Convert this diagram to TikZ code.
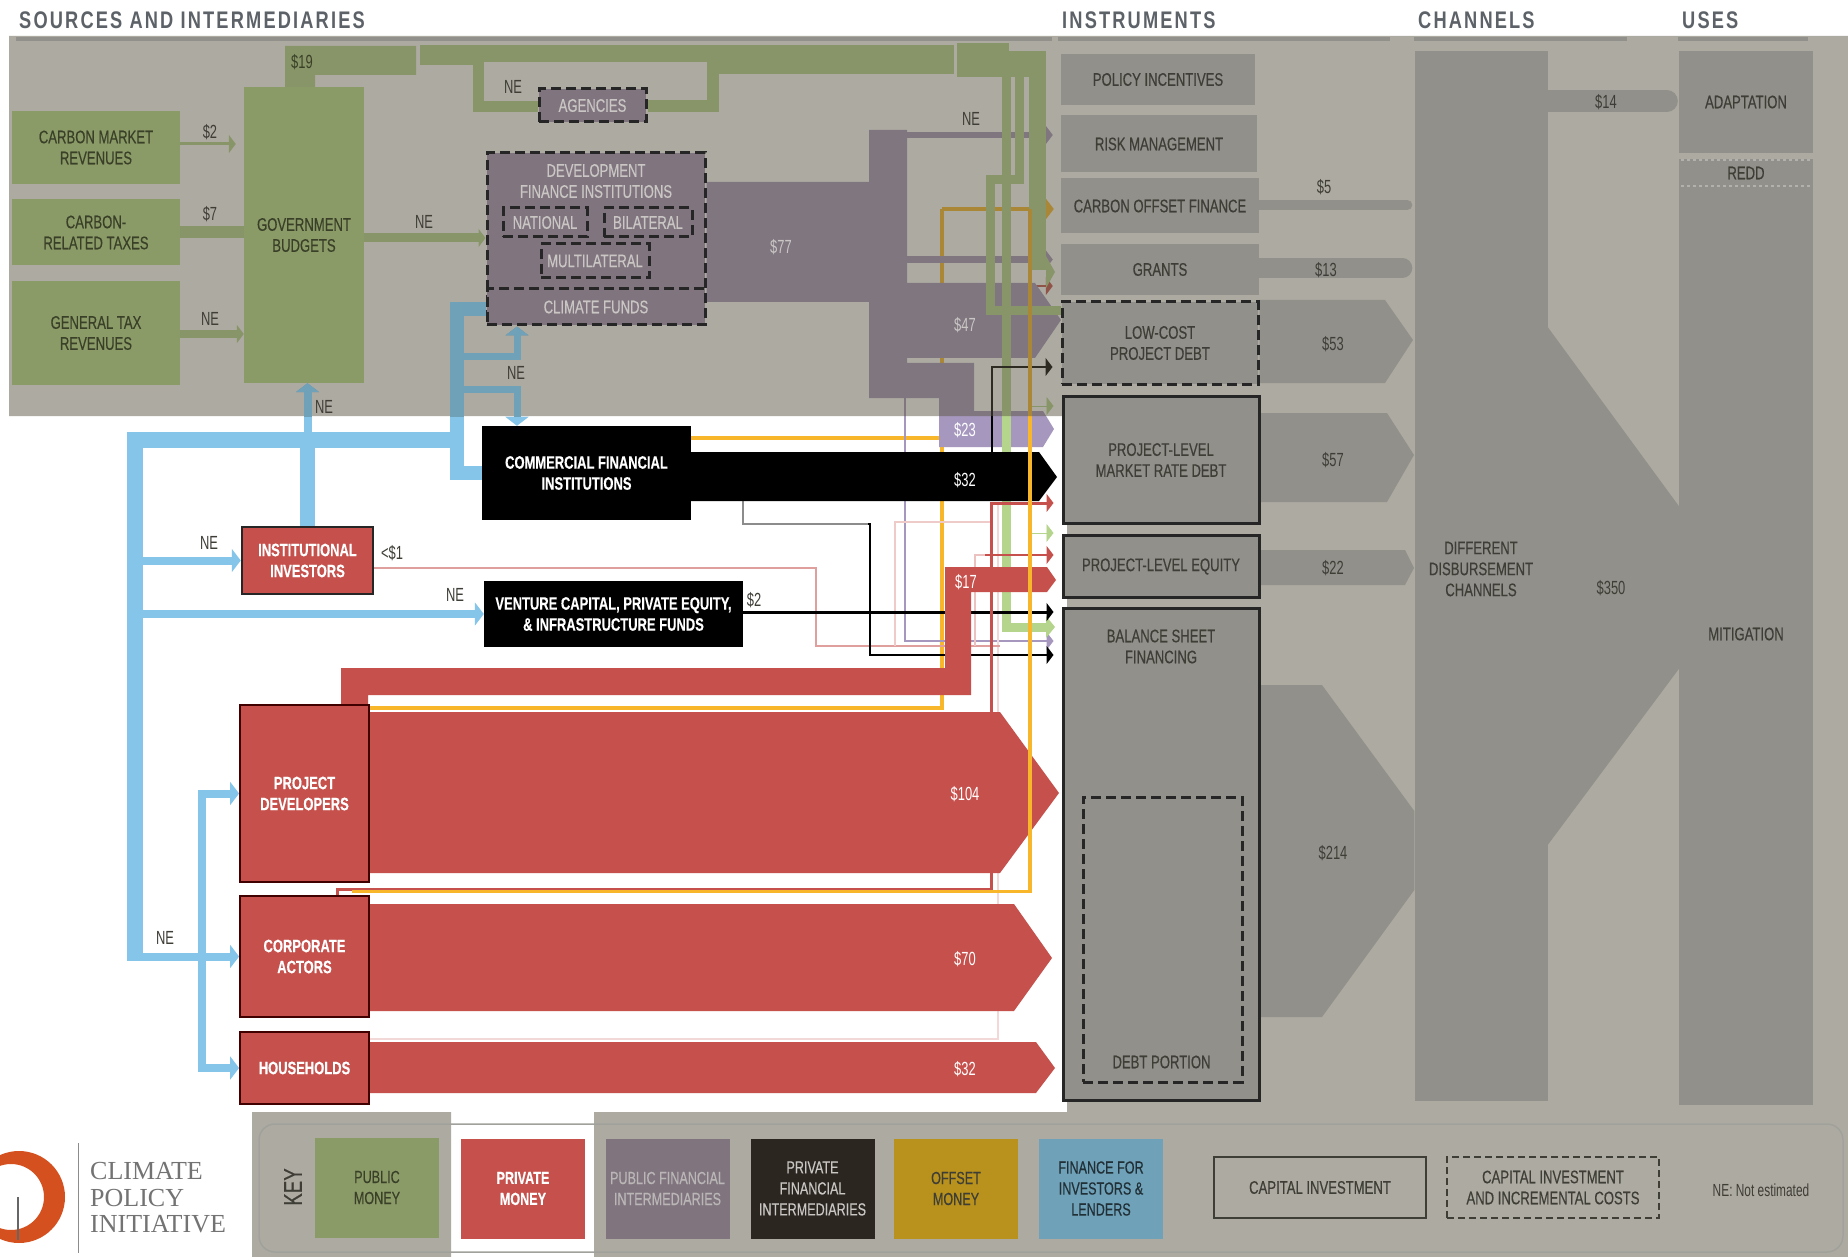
\documentclass[tikz,border=0pt]{standalone}
\usepackage{fontspec}
\usepackage{tikz}
\usetikzlibrary{arrows.meta}
\newfontfamily\condfont[FakeStretch=0.72,FakeBold=0.35]{Liberation Sans}
\newfontfamily\valfont[FakeStretch=0.68]{Liberation Sans}
\newfontfamily\headfont[FakeStretch=0.76,LetterSpace=9]{Liberation Sans}
\newfontfamily\logofont{Liberation Serif}
\definecolor{pubgreen}{HTML}{8B9B68}
\definecolor{privred}{HTML}{C5504C}
\definecolor{finpurple}{HTML}{80757F}
\definecolor{privdark}{HTML}{2B2620}
\definecolor{offsetgold}{HTML}{B8921C}
\definecolor{finblue}{HTML}{6FA1B8}
\definecolor{instgrey}{HTML}{91908A}
\definecolor{greentext}{HTML}{3A4028}
\definecolor{greytext}{HTML}{3E3D36}
\definecolor{dimtext}{HTML}{C9C6C4}
\definecolor{basegreen}{HTML}{B5D58C}
\definecolor{basepurple}{HTML}{A597BD}
\definecolor{baseyellow}{HTML}{F8B62A}
\definecolor{blueflow}{HTML}{85C5EA}
\definecolor{shadecol}{HTML}{5D5745}
\definecolor{headcol}{HTML}{5C6268}
\definecolor{logoorange}{HTML}{D4501E}
\pgfdeclarelayer{flows}
\pgfdeclarelayer{shade}
\pgfsetlayers{flows,shade,main}
\newcommand{\tiparrow}[7]{\fill[#1] (#2 |- 0,#3) -- (#5,#3) -- (#6,#7) -- (#5,#4) -- (#2 |- 0,#4) -- cycle;}
\newcommand{\blueflows}{
\draw[bfl,line width=15.5pt] (457,440) -- (135,440) -- (135,957);
\draw[bfl,line width=8pt,tipa] (127,0 |- corporate.west) -- (corporate.west);
\draw[bfl,line width=8pt,tipa] (135,0 |- inst.west) -- (inst.west);
\draw[bfl,line width=7.5pt,tipa] (135,0 |- venture.west) -- (venture.west);
\draw[bfl,line width=8pt,{Triangle[length=9pt,width=23pt]}-{Triangle[length=9pt,width=23pt]}] (project.west) -- ++(-37,0) -- ++(0,274.5) -- (household.west);
\draw[bfl,line width=15pt] (inst.north) -- (inst.north |- 0,440);
\draw[bfl,line width=8pt,tipa] (inst.north |- 0,440) -- (inst.north |- gov.south);
\draw[bfl,line width=14.5pt] (climate.west |- 0,309) -- (457,309) -- (457,473) -- (cfi.west |- 0,473);
\draw[bfl,line width=7pt,tipa] (457,356.5) -- (517,356.5) -- (517,0 |- climate.south);
\draw[bfl,line width=7pt,tipa] (457,389) -- (517,389) -- (517,0 |- cfi.north);
}
\begin{document}
\begin{tikzpicture}[x=1pt,y=-1pt,
    lab/.style={font=\condfont\fontsize{18.2}{21}\selectfont,align=center,inner sep=0pt},
    labw/.style={lab,font=\condfont\bfseries\fontsize{18}{21}\selectfont,text=white},
    val/.style={font=\valfont\fontsize{19}{20}\selectfont,text=greytext,inner sep=0pt},
    valw/.style={val,text=white},
    vald/.style={val,text=dimtext},
    head/.style={font=\headfont\bfseries\fontsize{24}{26}\selectfont,text=headcol,anchor=west,inner sep=0pt},
    srcbox/.style={lab,fill=pubgreen,text=greentext},
    pfbox/.style={lab,fill=finpurple,text=dimtext},
    pfdash/.style={pfbox,draw=black!85,line width=3pt,dash pattern=on 10pt off 5pt},
    instbox/.style={lab,fill=instgrey,text=greytext},
    instsolid/.style={instbox,draw=black!85,line width=3pt},
    instdash/.style={instbox,draw=black!85,line width=3pt,dash pattern=on 10pt off 5pt},
    redbox/.style={labw,fill=privred,draw=red!25!black,line width=1.8pt},
    blkbox/.style={labw,fill=black},
    keybox/.style={lab,font=\condfont\fontsize{17.5}{21}\selectfont,minimum width=124pt,minimum height=100pt},
    tipa/.style={-{Triangle[length=9pt,width=23pt]}},
    tipb/.style={-{Triangle[length=7pt,width=18pt]},shorten >=8pt},
    pfl/.style={fill=basepurple,draw=none},
    gfl/.style={draw=basegreen},
    bfl/.style={draw=blueflow},
    rfl/.style={fill=privred,draw=none},
    gryfl/.style={draw=instgrey,line cap=round}]
\useasboundingbox (0,0) rectangle (1848,1257);
% sources
\node[srcbox,minimum width=168pt,minimum height=73pt] (carbmkt) at (96,147.5) {CARBON MARKET\\REVENUES};
\node[srcbox,minimum width=168pt,minimum height=66pt] (carbtax) at (96,232.5) {CARBON-\\RELATED TAXES};
\node[srcbox,minimum width=168pt,minimum height=104pt] (gentax) at (96,333) {GENERAL TAX\\REVENUES};
\node[srcbox,minimum width=120pt,minimum height=296pt] (gov) at (304,235) {GOVERNMENT\\BUDGETS};
% public intermediaries
\node[pfdash,minimum width=107pt,minimum height=33pt] (agencies) at (592.5,105.5) {AGENCIES};
\node[pfdash,minimum width=218pt,minimum height=172pt] (dev) at (596,239) {};
\node[lab,text=dimtext] (devlabel) at (596,181) {DEVELOPMENT\\FINANCE INSTITUTIONS};
\node[pfdash,minimum width=218pt,minimum height=36pt] (climate) at (596,307) {CLIMATE FUNDS};
\node[pfdash,minimum width=84pt,minimum height=29pt] (national) at (545,222.5) {NATIONAL};
\node[pfdash,minimum width=88pt,minimum height=29pt] (bilateral) at (648,222.5) {BILATERAL};
\node[pfdash,minimum width=108pt,minimum height=34pt] (multilateral) at (595,261) {MULTILATERAL};
% private intermediaries and actors
\node[blkbox,minimum width=209pt,minimum height=94pt] (cfi) at (586.5,473) {COMMERCIAL FINANCIAL\\INSTITUTIONS};
\node[blkbox,minimum width=259pt,minimum height=66pt] (venture) at (613.5,614) {VENTURE CAPITAL, PRIVATE EQUITY,\\\& INFRASTRUCTURE FUNDS};
\node[redbox,draw=black!85,line width=2.5pt,minimum width=131pt,minimum height=67pt] (inst) at (307.5,560.5) {INSTITUTIONAL\\INVESTORS};
\node[redbox,minimum width=129pt,minimum height=177pt] (project) at (304.5,793.5) {PROJECT\\DEVELOPERS};
\node[redbox,minimum width=129pt,minimum height=121pt] (corporate) at (304.5,956.5) {CORPORATE\\ACTORS};
\node[redbox,minimum width=129pt,minimum height=72pt] (household) at (304.5,1068) {HOUSEHOLDS};
% instruments
\node[instbox,minimum width=194pt,minimum height=51pt] (policy) at (1158,79.5) {POLICY INCENTIVES};
\node[instbox,minimum width=196pt,minimum height=57pt] (risk) at (1159,144) {RISK MANAGEMENT};
\node[instbox,minimum width=198pt,minimum height=55pt] (carbon) at (1160,206) {CARBON OFFSET FINANCE};
\node[instbox,minimum width=198pt,minimum height=51pt] (grants) at (1160,269.5) {GRANTS};
\node[instdash,minimum width=196pt,minimum height=82pt] (lowcost) at (1160,343) {LOW-COST\\PROJECT DEBT};
\node[instsolid,minimum width=196pt,minimum height=127pt] (debt) at (1161,460) {PROJECT-LEVEL\\MARKET RATE DEBT};
\node[instsolid,minimum width=196pt,minimum height=62pt] (equity) at (1161,566.5) {PROJECT-LEVEL EQUITY};
\node[instsolid,minimum width=196pt,minimum height=492pt] (balance) at (1161,854) {};
\node[lab,text=greytext] (balancelabel) at (1161,646.5) {BALANCE SHEET\\FINANCING};
\node[draw=black!85,line width=3pt,dash pattern=on 10pt off 5pt,minimum width=159pt,minimum height=285pt,inner sep=0pt] (portion) at (1162.5,939.5) {};
\node[lab,text=greytext] (portionlabel) at (1161.5,1062) {DEBT PORTION};
% channels and uses
\node[instbox,minimum width=133pt,minimum height=1050pt] (channels) at (1481,576) {};
\node[lab,text=greytext] (channelslabel) at (1481,569) {DIFFERENT\\DISBURSEMENT\\CHANNELS};
\node[instbox,minimum width=134pt,minimum height=102pt] (adaptation) at (1746,102) {ADAPTATION};
\node[instbox,minimum width=134pt,minimum height=946pt] (mitigation) at (1746,632) {};
\node[lab,text=greytext] (mitigationlabel) at (1746,634) {MITIGATION};
\node[lab,text=greytext] (redd) at (1746,173) {REDD};
% headings
\node[head] (headsrc) at (19,20.5) {SOURCES AND INTERMEDIARIES};
\node[head] (headinst) at (1062,20.5) {INSTRUMENTS};
\node[head] (headchan) at (1418,20.5) {CHANNELS};
\node[head] (headuses) at (1682,20.5) {USES};
% values
\node[val,text=greentext] (v19) at (302,62) {\$19};
\node[val] (v2) at (210,132) {\$2};
\node[val] (v7) at (210,214) {\$7};
\node[val] (negen) at (210,319) {NE};
\node[val] (negov) at (424,222) {NE};
\node[val] (neage) at (513,87) {NE};
\node[val] (nerisk) at (971,119) {NE};
\node[val] (negovup) at (324,407) {NE};
\node[val] (neclim) at (516,373) {NE};
\node[val] (neinst) at (209,543) {NE};
\node[val] (nevent) at (455,595) {NE};
\node[val] (necorp) at (165,938) {NE};
\node[val] (vlt) at (392,553) {<\$1};
\node[val] (vvent) at (754,600) {\$2};
\node[vald] (v77) at (781,247) {\$77};
\node[vald] (v47) at (965,325) {\$47};
\node[valw] (v23) at (965,430) {\$23};
\node[valw] (v32a) at (965,480) {\$32};
\node[valw] (v17) at (966,582) {\$17};
\node[valw] (v104) at (965,794) {\$104};
\node[valw] (v70) at (965,959) {\$70};
\node[valw] (v32b) at (965,1069) {\$32};
\node[val] (v5) at (1324,187) {\$5};
\node[val] (v13) at (1326,270) {\$13};
\node[val] (v53) at (1333,344) {\$53};
\node[val] (v57) at (1333,460) {\$57};
\node[val] (v22) at (1333,568) {\$22};
\node[val] (v214) at (1333,853) {\$214};
\node[val] (v14) at (1606,102) {\$14};
\node[val] (v350) at (1611,588) {\$350};
% key
\node[keybox,fill=pubgreen,text=greentext] (keypub) at (377,1187.5) {PUBLIC\\MONEY};
\node[keybox,fill=privred,text=white,font=\condfont\bfseries\fontsize{17.5}{21}\selectfont] (keypriv) at (523,1188.5) {PRIVATE\\MONEY};
\node[keybox,fill=finpurple,text=dimtext!80!finpurple] (keypf) at (667.5,1188.5) {PUBLIC FINANCIAL\\INTERMEDIARIES};
\node[keybox,fill=privdark,text=dimtext] (keypd) at (812.5,1188.5) {PRIVATE\\FINANCIAL\\INTERMEDIARIES};
\node[keybox,fill=offsetgold,text=greytext] (keyoff) at (956,1188.5) {OFFSET\\MONEY};
\node[keybox,fill=finblue,text=black!70!finblue] (keyfin) at (1101,1188.5) {FINANCE FOR\\INVESTORS \&\\LENDERS};
\node[lab,text=greytext,draw=greytext,line width=2.5pt,minimum width=212pt,minimum height=61pt] (keycap) at (1320,1187.5) {CAPITAL INVESTMENT};
\node[lab,text=greytext,draw=greytext,line width=2.5pt,dash pattern=on 7pt off 4pt,minimum width=212pt,minimum height=61pt] (keyinc) at (1553,1187.5) {CAPITAL INVESTMENT\\AND INCREMENTAL COSTS};
\node[val,font=\valfont\fontsize{17.5}{20}\selectfont] (keyne) at (1761,1190) {NE: Not estimated};
\node[font=\condfont\fontsize{26}{27}\selectfont,rotate=90,text=greytext,inner sep=0pt] (keyword) at (293,1187) {KEY};
% logo
\node[font=\logofont\fontsize{26}{26.5}\selectfont,text=black!55,align=left,anchor=west,inner sep=0pt] (logotext) at (90,1198) {CLIMATE\\POLICY\\INITIATIVE};
\fill[even odd rule,fill=logoorange] (19,1197) circle (46pt) (11,1197) circle (33pt);
\draw[black!60,line width=1.2pt] (18,1197) -- (18,1240);
\draw[black!45,line width=1pt] (78,1143) -- (78,1253);

\begin{pgfonlayer}{flows}
\fill[white] (0,0) rectangle (1848,1257);
\blueflows
% offset flows
\draw[draw=baseyellow,line width=4pt] (project.east |- 0,708) -- (942,708) -- (942,209);
\draw[draw=baseyellow,line width=4pt] (cfi.east |- 0,438) -- (942,438);
\draw[draw=baseyellow,line width=3.5pt,-{Triangle[length=9pt,width=23pt]},shorten >=7pt] (942,209) -- (carbon.west |- 0,209);
% purple flows
\fill[pfl] (dev.east |- 0,182) -- (869,182) -- (869,130) -- (907,130) -- (907,398) -- (869,398) -- (869,302) -- (dev.east |- 0,302) -- cycle;
\draw[draw=basepurple,line width=6pt,tipb] (907,135) -- (risk.west |- 0,135);
\draw[draw=basepurple,line width=7pt,tipb] (907,259.5) -- (grants.west |- 0,259.5);
\draw[draw=privred,line width=1.5pt,tipb] (1030,286) -- (grants.west |- 0,286);
\tiparrow{pfl}{907,0}{283}{358}{1035}{1061}{320}
\fill[pfl] (907,363) -- (974,363) -- (974,411) -- (1043,411) -- (1054,429) -- (1043,447) -- (939,447) -- (939,398) -- (907,398) -- cycle;
\draw[draw=basepurple,line width=1.3pt,tipb] (905,398) -- (905,641) -- (balance.west |- 0,641);
% green flows
\draw[gfl,line width=3pt,tipb] (carbmkt.east |- 0,144) -- (gov.west |- 0,144);
\draw[gfl,line width=12pt] (carbtax.east |- 0,232) -- (gov.west |- 0,232);
\draw[gfl,line width=8pt,tipb,shorten >=0pt] (gentax.east |- 0,334) -- (gov.west |- 0,334);
\draw[gfl,line width=9pt,tipb,shorten >=0pt] (gov.east |- 0,238) -- (dev.west |- 0,238);
\fill[basegreen] (285,0 |- gov.north) -- (285,46) -- (416,46) -- (416,75) -- (315,75) -- (315,0 |- gov.north) -- cycle;
\fill[basegreen] (420,45) rectangle (954,62);
\fill[basegreen] (420,62) rectangle (484,65);
\draw[gfl,line width=11pt] (agencies.west |- 0,106.5) -- (478,106.5) -- (478,62);
\draw[gfl,line width=12pt] (agencies.east |- 0,106.5) -- (713,106.5) -- (713,68.5) -- (954,68.5);
\fill[basegreen] (957,43) rectangle (1009,77);
\fill[basegreen] (1009,51) rectangle (1046,77);
\draw[gfl,line width=17pt] (1037.5,77) -- (1037.5,270);
\fill[basegreen] (1046,264) -- (1046,256) -- (1055,272) -- (1046,288) -- (1046,278) -- cycle;
\draw[gfl,line width=9pt] (1019.5,77) -- (1019.5,180) -- (990.5,180) -- (990.5,311) -- (lowcost.west |- 0,311);
\draw[gfl,line width=9pt] (1006.5,77) -- (1006.5,627) -- (1048,627);
\fill[basegreen] (1046,616) -- (1055,627) -- (1046,638) -- cycle;
\draw[gfl,line width=0.8pt,tipb] (1030,406) -- (debt.west |- 0,406);
\draw[gfl,line width=0.8pt,tipb] (1030,533) -- (debt.west |- 0,533);
% thin private flows
\draw[draw=privred!22!white,line width=1.3pt] (household.east |- 0,1039) -- (998,1039) -- (998,503);
\draw[draw=privred!55!white,line width=1.3pt] (inst.east |- 0,568) -- (816,568) -- (816,646) -- (1000,646);
\draw[draw=privred!30!white,line width=1.3pt] (895,646) -- (895,522) -- (990,522);
\draw[draw=privred!35!white,line width=1.3pt] (975,646) -- (975,555) -- (990,555);
\draw[draw=privred,line width=2.5pt,tipb] (985,555) -- (equity.west |- 0,555);
\draw[draw=black,line width=2pt,tipb] (743,501) -- (743,524) -- (870,524) -- (870,655) -- (balance.west |- 0,655);
\draw[draw=black!45,line width=2.5pt] (743,501) -- (743,524) -- (868,524);
\draw[draw=black,line width=1.5pt,tipb] (992,452) -- (992,367) -- (lowcost.west |- 0,367);
\draw[draw=black,line width=3pt,tipb] (venture.east |- 0,612) -- (balance.west |- 0,612);
\draw[draw=privred,line width=3pt,tipb] (337,0 |- corporate.north) -- (337,889) -- (991,889) -- (991,503) -- (debt.west |- 0,503);
% big arrows
\tiparrow{black}{cfi.east}{452}{501}{1039}{1057}{477}
\fill[rfl] (341,0 |- project.north) -- (341,668) -- (945,668) -- (945,567) -- (1047,567) -- (1056,580) -- (1047,592) -- (971,592) -- (971,695) -- (368,695) -- (368,0 |- project.north) -- cycle;
\tiparrow{rfl}{project.east}{712}{873}{1000}{1059}{793}
\tiparrow{rfl}{corporate.east}{904}{1011}{1014}{1052}{958}
\tiparrow{rfl}{household.east}{1042}{1093}{1036}{1055}{1068}
\draw[draw=baseyellow,line width=3pt] (352,891.5) -- (1030,891.5);
\draw[draw=baseyellow,line width=3.5pt] (1030,893) -- (1030,209);
\end{pgfonlayer}

\begin{pgfonlayer}{shade}
\fill[shadecol,opacity=0.5] (9,36) rectangle (1848,416) (1067,416) rectangle (1848,1257) (252,1112) rectangle (451,1257) (594,1112) rectangle (1067,1257);
\begin{scope}
\clip (9,36) rectangle (1848,416);
\colorlet{blueflow}{finblue}
\blueflows
\end{scope}
\fill[instgrey] (16,37) rectangle (1052,41);
\fill[instgrey] (1058,37) rectangle (1390,41);
\fill[instgrey] (1414,37) rectangle (1627,41);
\fill[instgrey] (1678,37) rectangle (1808,41);
\draw[instgrey!85!white,line width=1.5pt,rounded corners=16pt] (259,1124) rectangle (1843,1252);
\draw[gryfl,line width=10pt,shorten >=7pt] (carbon.east |- 0,205) -- (channels.west |- 0,205);
\draw[gryfl,line width=20pt,shorten >=12pt] (grants.east |- 0,268) -- (channels.west |- 0,268);
\draw[gryfl,line width=22pt,shorten >=12pt] (channels.east |- 0,101) -- (adaptation.west |- 0,101);
\tiparrow{instgrey}{lowcost.east}{300}{383}{1385}{1413}{340}
\tiparrow{instgrey}{debt.east}{413}{502}{1387}{1414}{455}
\tiparrow{instgrey}{equity.east}{550}{585}{1405}{1414}{568}
\fill[instgrey] (balance.east |- 0,685) -- (1322,685) -- (channels.west |- 0,811) -- (channels.west |- 0,890) -- (1322,1017) -- (balance.east |- 0,1017) -- cycle;
\fill[instgrey] (channels.east |- 0,327) -- (mitigation.west |- 0,506) -- (mitigation.west |- 0,669) -- (channels.east |- 0,845) -- cycle;
\end{pgfonlayer}
\draw[instgrey!70!white,dashed,line width=1.5pt] (1681,160) -- (1811,160) (1681,186) -- (1811,186);
\end{tikzpicture}
\end{document}
